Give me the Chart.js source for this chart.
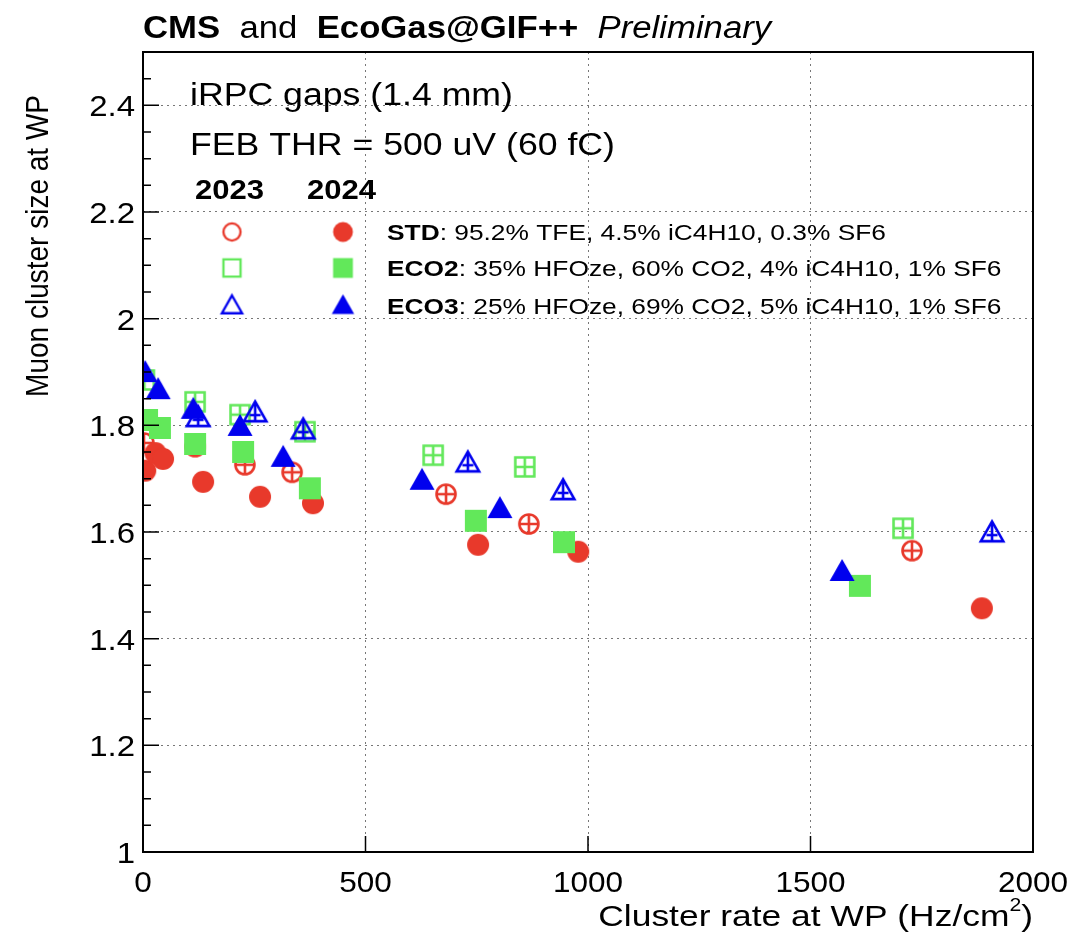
<!DOCTYPE html>
<html>
<head>
<meta charset="utf-8">
<script src="https://cdn.jsdelivr.net/npm/chart.js@4.4.0/dist/chart.umd.min.js"></script>
<style>
html, body { margin: 0; padding: 0; background: #fff; }
#wrap { width: 1080px; height: 939px; }
</style>
</head>
<body>
<div id="wrap"><canvas id="ScatterChart"></canvas></div>
<script>
// values: [cluster rate (Hz/cm2), muon cluster size]
const std2023 = [[2, 1.767], [117, 1.76], [229, 1.726], [335, 1.712], [681, 1.671], [867, 1.615], [1728, 1.565]];
const std2024 = [[5, 1.715], [28, 1.748], [45, 1.737], [135, 1.694], [263, 1.666], [382, 1.654], [753, 1.576], [978, 1.563], [1885, 1.457]];
const eco2_2023 = [[3, 1.885], [117, 1.844], [218, 1.82], [364, 1.788], [652, 1.744], [858, 1.722], [1708, 1.607]];
const eco2_2024 = [[9, 1.81], [38, 1.795], [117, 1.765], [225, 1.75], [375, 1.682], [748, 1.621], [946, 1.581], [1611, 1.499]];
const eco3_2023 = [[124, 1.814], [252, 1.823], [360, 1.791], [730, 1.729], [944, 1.677], [1908, 1.598]];
const eco3_2024 = [[5, 1.898], [34, 1.866], [113, 1.829], [218, 1.797], [315, 1.739], [627, 1.696], [802, 1.643], [1571, 1.525]];

const xTicks = [0, 500, 1000, 1500, 2000];
const yTicks = [1, 1.2, 1.4, 1.6, 1.8, 2, 2.2, 2.4];

const RED = '#e8392b', GREEN = '#62e85a', BLUE = '#0000ee';
const FONT = '"Liberation Sans", Arial, Helvetica, sans-serif';

// ROOT-like marker drawn once into a small canvas, used as pointStyle
function makeMarker(shape, color, filled, cross, scale) {
    const s = scale || 1;
    const c = document.createElement('canvas');
    c.width = c.height = Math.ceil(34 * s);
    const g = c.getContext('2d');
    g.translate(c.width / 2, c.height / 2);
    g.scale(s, s);
    g.fillStyle = color;
    g.strokeStyle = color;
    g.lineWidth = 2.6;
    g.beginPath();
    if (shape === 'circle') {
        g.arc(0, 0, filled ? 11 : 9.5, 0, Math.PI * 2);
    } else if (shape === 'square') {
        const h = filled ? 11 : 9.5;
        g.rect(-h, -h, 2 * h, 2 * h);
    } else {
        const h = filled ? 1 : 0.9;
        g.moveTo(0, -13 * h);
        g.lineTo(12.5 * h, 9 * h);
        g.lineTo(-12.5 * h, 9 * h);
        g.closePath();
    }
    if (filled) g.fill(); else g.stroke();
    if (cross) {
        g.beginPath();
        if (shape === 'triangle') {
            g.moveTo(0, -11); g.lineTo(0, 8);
            g.moveTo(-5.5, 2); g.lineTo(5.5, 2);
        } else {
            g.moveTo(-9.5, 0); g.lineTo(9.5, 0);
            g.moveTo(0, -9.5); g.lineTo(0, 9.5);
        }
        g.stroke();
    }
    return c;
}

const toPts = arr => arr.map(p => ({ x: p[0], y: p[1] }));

const chartDatasets = [
    { label: 'ECO3 2024', data: toPts(eco3_2024), pointStyle: makeMarker('triangle', BLUE, true, false) },
    { label: 'ECO3 2023', data: toPts(eco3_2023), pointStyle: makeMarker('triangle', BLUE, false, true) },
    { label: 'ECO2 2024', data: toPts(eco2_2024), pointStyle: makeMarker('square', GREEN, true, false) },
    { label: 'ECO2 2023', data: toPts(eco2_2023), pointStyle: makeMarker('square', GREEN, false, true) },
    { label: 'STD 2024', data: toPts(std2024), pointStyle: makeMarker('circle', RED, true, false) },
    { label: 'STD 2023', data: toPts(std2023), pointStyle: makeMarker('circle', RED, false, true) }
];

const legendRows = [
    { open: makeMarker('circle', RED, false, false, 0.9), full: makeMarker('circle', RED, true, false, 0.9), name: 'STD', text: ': 95.2% TFE, 4.5% iC4H10, 0.3% SF6' },
    { open: makeMarker('square', GREEN, false, false, 0.9), full: makeMarker('square', GREEN, true, false, 0.9), name: 'ECO2', text: ': 35% HFOze, 60% CO2, 4% iC4H10, 1% SF6' },
    { open: makeMarker('triangle', BLUE, false, false, 0.9), full: makeMarker('triangle', BLUE, true, false, 0.9), name: 'ECO3', text: ': 25% HFOze, 69% CO2, 5% iC4H10, 1% SF6' }
];

// text drawn with a horizontal stretch (the reference fonts are wide)
function wideText(ctx, text, font, x, y, sx, align) {
    ctx.save();
    ctx.font = font;
    const w = ctx.measureText(text).width * sx;
    let x0 = x;
    if (align === 'right') x0 = x - w;
    else if (align === 'center') x0 = x - w / 2;
    ctx.translate(x0, y);
    ctx.scale(sx, 1);
    ctx.textAlign = 'left';
    ctx.fillText(text, 0, 0);
    ctx.restore();
    return w;
}

const decorations = {
    id: 'decorations',
    afterDraw(chart) {
        const ctx = chart.ctx;
        const a = chart.chartArea;
        const xs = chart.scales.x, ys = chart.scales.y;
        ctx.save();

        // frame
        ctx.strokeStyle = '#000';
        ctx.lineWidth = 2;
        ctx.strokeRect(a.left, a.top, a.right - a.left, a.bottom - a.top);

        // inward tick marks
        ctx.lineWidth = 1.5;
        ctx.beginPath();
        for (let v = 1; v <= 2.5001; v += 0.05) {
            const y = ys.getPixelForValue(v);
            const major = Math.abs(v * 5 - Math.round(v * 5)) < 1e-6;
            ctx.moveTo(a.left, y);
            ctx.lineTo(a.left + (major ? 16 : 8), y);
        }
        xTicks.forEach(v => {
            const x = xs.getPixelForValue(v);
            ctx.moveTo(x, a.bottom);
            ctx.lineTo(x, a.bottom - 16);
        });
        ctx.stroke();

        ctx.fillStyle = '#000';
        ctx.textBaseline = 'alphabetic';

        // tick labels
        const tickFont = '30px ' + FONT;
        yTicks.forEach(v => {
            wideText(ctx, String(+v.toFixed(1)), tickFont, a.left - 8, ys.getPixelForValue(v) + 11, 1.1, 'right');
        });
        xTicks.forEach(v => {
            wideText(ctx, String(v), tickFont, xs.getPixelForValue(v), a.bottom + 40, 1.05, 'center');
        });

        // header, one uniform stretch
        const head = [
            ['bold 31px ' + FONT, 'CMS'], ['31px ' + FONT, '  and  '],
            ['bold 31px ' + FONT, 'EcoGas@GIF++'], ['31px ' + FONT, '  '],
            ['italic 31px ' + FONT, 'Preliminary']
        ];
        let hx = a.left;
        head.forEach(p => { hx += wideText(ctx, p[1], p[0], hx, 38, 1.12, 'left'); });

        // y axis title
        ctx.save();
        ctx.font = '28px ' + FONT;
        ctx.translate(48, 95);
        ctx.rotate(-Math.PI / 2);
        ctx.scale(1, 1.15);
        ctx.textAlign = 'right';
        ctx.fillText('Muon cluster size at WP', 0, 0);
        ctx.restore();

        // x axis title with superscript
        const xsx = 1.18;
        let right = a.right;
        right -= wideText(ctx, ')', '30px ' + FONT, right, 926, xsx, 'right');
        right -= wideText(ctx, '2', '18px ' + FONT, right, 911, xsx, 'right');
        wideText(ctx, 'Cluster rate at WP (Hz/cm', '30px ' + FONT, right, 926, xsx, 'right');

        // annotations
        wideText(ctx, 'iRPC gaps (1.4 mm)', '31px ' + FONT, 190, 105, 1.15, 'left');
        wideText(ctx, 'FEB THR = 500 uV (60 fC)', '31px ' + FONT, 190, 155, 1.15, 'left');
        wideText(ctx, '2023', 'bold 27px ' + FONT, 195, 199, 1.15, 'left');
        wideText(ctx, '2024', 'bold 27px ' + FONT, 307, 199, 1.15, 'left');

        // legend
        const rowY = [232, 268, 306];
        legendRows.forEach((r, i) => {
            const y = rowY[i];
            ctx.drawImage(r.open, 232 - r.open.width / 2, y - r.open.height / 2);
            ctx.drawImage(r.full, 343 - r.full.width / 2, y - r.full.height / 2);
            const w = wideText(ctx, r.name, 'bold 22.5px ' + FONT, 387, y + 8, 1.17, 'left');
            wideText(ctx, r.text, '22.5px ' + FONT, 387 + w, y + 8, 1.17, 'left');
        });
        ctx.restore();
    }
};

const ctx = document.getElementById('ScatterChart').getContext('2d');
const scatterChart = new Chart(ctx, {
    type: 'scatter',
    data: { datasets: chartDatasets },
    options: {
        responsive: true,
        maintainAspectRatio: false,
        animation: false,
        layout: { padding: { top: 52, right: 47, left: 0, bottom: 0 } },
        plugins: { legend: { display: false }, tooltip: { enabled: false } },
        scales: {
            x: {
                type: 'linear',
                min: 0,
                max: 2000,
                afterBuildTicks: s => { s.ticks = xTicks.map(v => ({ value: v })); },
                afterFit: s => { s.height = 87; },
                ticks: { display: false },
                grid: { color: '#777', lineWidth: 1, drawTicks: false },
                border: { display: false, dash: [2, 4] }
            },
            y: {
                type: 'linear',
                min: 1,
                max: 2.5,
                afterBuildTicks: s => { s.ticks = yTicks.map(v => ({ value: v })); },
                afterFit: s => { s.width = 143; },
                ticks: { display: false },
                grid: { color: '#777', lineWidth: 1, drawTicks: false },
                border: { display: false, dash: [2, 4] }
            }
        }
    },
    plugins: [decorations]
});
</script>
</body>
</html>
